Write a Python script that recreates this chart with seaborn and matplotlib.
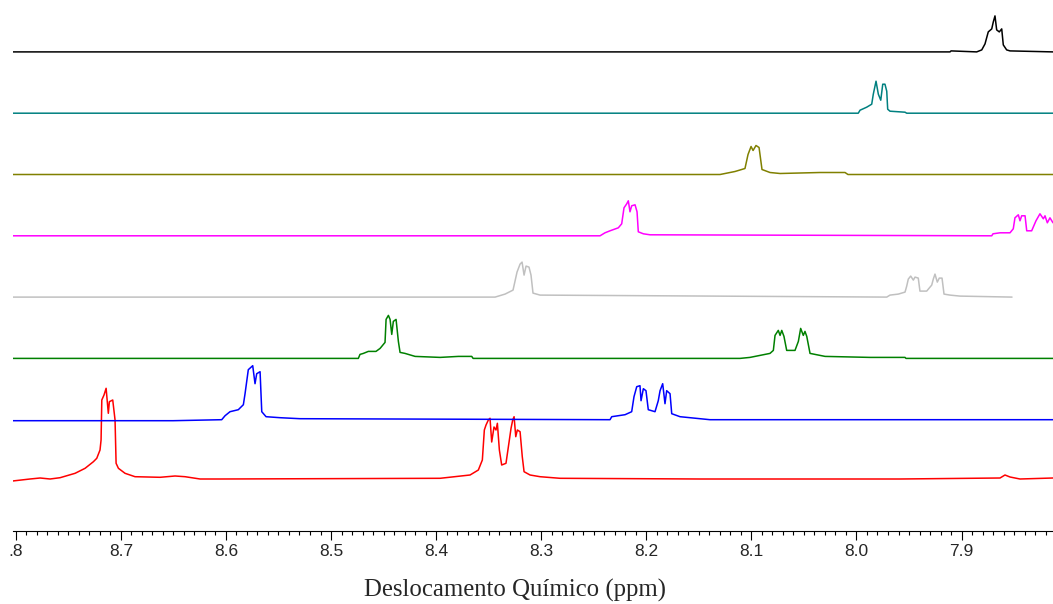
import matplotlib
matplotlib.use('Agg')
from matplotlib import pyplot as plt
from matplotlib.ticker import FixedLocator, FixedFormatter, MultipleLocator
import seaborn as sns

# spectra, bottom to top; ppm / intensity pairs
red_ppm = [8.803, 8.7864, 8.7768, 8.7673, 8.7578, 8.7435, 8.7340, 8.7261, 8.7229, 8.7198,
           8.7188, 8.7181, 8.7160, 8.7140, 8.7119, 8.7109, 8.7077, 8.7055, 8.7045, 8.7023,
           8.6960, 8.6865, 8.6627, 8.6484, 8.6389, 8.6246, 8.6056, 8.3962, 8.3677, 8.3598,
           8.3560, 8.3541, 8.3525, 8.3503, 8.3487, 8.3471, 8.3449, 8.3430, 8.3417, 8.3398,
           8.3376, 8.3335, 8.3303, 8.3287, 8.3271, 8.3258, 8.3242, 8.3227, 8.3201, 8.3180,
           8.3163, 8.3106, 8.3011, 8.2821, 8.1489, 7.9586, 7.8634, 7.8587, 7.8539, 7.8444, 7.813]
red_int = [0, 2, 3, 2, 3.3, 7.7, 12.7, 19.3, 22.7, 31,
           41, 81, 86, 92.7, 67.7, 79.3, 81, 61, 17.7, 12.7,
           7.7, 4.3, 3.7, 5, 4.3, 2, 2, 2.7, 6, 11,
           21, 51, 56, 61, 62.7, 39, 54, 51, 57.7, 31,
           16, 17.7, 41, 52.7, 61, 64.3, 44.3, 51, 49.3, 24.3,
           9.3, 6, 4.3, 2.7, 2, 2, 3, 6, 4, 2, 3]

blue_ppm = [8.803, 8.6503, 8.6040, 8.6008, 8.5961, 8.5882, 8.5834, 8.5818, 8.5787, 8.5745,
            8.5723, 8.5707, 8.5675, 8.5659, 8.5618, 8.5485, 8.5295, 8.2345, 8.2329, 8.2202,
            8.2139, 8.2117, 8.2091, 8.2060, 8.2050, 8.2028, 8.2003, 8.1981, 8.1917, 8.1886,
            8.1869, 8.1844, 8.1822, 8.1806, 8.1774, 8.1758, 8.1679, 8.1584, 8.1489, 8.1394, 7.813]
blue_int = [-1, -1, 0, 4, 8, 10, 15, 26, 50, 54,
            36, 46, 48, 8, 3, 2, 1, 0, 3, 5,
            8, 23, 33, 34, 19, 31, 29, 10, 8, 19,
            29, 36, 16, 29, 26, 6, 3, 2, 1, 0, 0]

green_ppm = [8.803, 8.4740, 8.4724, 8.4692, 8.4645, 8.4572, 8.4533, 8.4486, 8.4476, 8.4454,
             8.4438, 8.4422, 8.4407, 8.4381, 8.4359, 8.4343, 8.4296, 8.4200, 8.3962, 8.3788,
             8.3661, 8.3648, 8.1108, 8.1013, 8.0918, 8.0823, 8.0791, 8.0775, 8.0744, 8.0727,
             8.0711, 8.0690, 8.0664, 8.0585, 8.0553, 8.0531, 8.0506, 8.0490, 8.0473, 8.0442,
             8.0299, 7.9871, 7.9538, 7.9529, 7.813]
green_int = [0, 0, 4, 5, 7, 7, 10, 16, 39, 43,
             39, 24, 37, 39, 17, 6, 5, 2, 1, 2,
             2, 0, 0, 1, 3, 5, 8, 23, 28, 23,
             28, 22, 8, 8, 17, 30, 23, 27, 22, 5,
             2, 1, 1, 0, 0]

gray_ppm = [8.803, 8.3439, 8.3344, 8.3268, 8.3230, 8.3201, 8.3182, 8.3163, 8.3144, 8.3116,
            8.3097, 8.3078, 8.3011, 7.9712, 7.9681, 7.9602, 7.9538, 7.9522, 7.9507, 7.9484,
            7.9459, 7.9443, 7.9412, 7.9396, 7.9332, 7.9284, 7.9269, 7.9253, 7.9231, 7.9212,
            7.9186, 7.9167, 7.9110, 7.9015, 7.8520]
gray_int = [0, 0, 3, 7, 25, 33, 35, 22, 31, 30,
            22, 4, 2, 0, 2, 3, 5, 11, 18, 21,
            17, 20, 19, 6, 6, 12, 18, 23, 15, 19,
            19, 3, 2, 1, 0]

magenta_ppm = [8.803, 8.2440, 8.2393, 8.2345, 8.2266, 8.2234, 8.2212, 8.2186, 8.2171, 8.2155,
               8.2139, 8.2107, 8.2088, 8.2076, 8.2028, 8.1964, 7.8713, 7.8701, 7.8634, 7.8539,
               7.8508, 7.8492, 7.8460, 7.8444, 7.8428, 7.8396, 7.8380, 7.8333, 7.8292, 7.8254,
               7.8222, 7.8206, 7.8184, 7.8159, 7.813]
magenta_int = [0, 0, 3, 5, 8, 12, 28, 32, 35, 24,
               30, 31, 24, 4, 2, 1, 0, 2, 3, 3,
               7, 18, 21, 15, 20, 20, 5, 5, 15, 22,
               17, 20, 13, 18, 13]

olive_ppm = [8.803, 8.1298, 8.1156, 8.1061, 8.1032, 8.1003, 8.0984, 8.0956, 8.0927, 8.0899,
             8.0823, 8.0727, 8.0347, 8.0109, 8.0081, 7.813]
olive_int = [0, 0, 3, 6, 20, 28, 24, 29, 27, 5,
             2, 1, 2, 2, 0, 0]

teal_ppm = [8.803, 7.9983, 7.9966, 7.9903, 7.9855, 7.9840, 7.9814, 7.9792, 7.9769, 7.9750,
            7.9729, 7.9712, 7.9703, 7.9681, 7.9538, 7.9522, 7.813]
teal_int = [0, 0, 3, 6, 9, 19, 32, 19, 13, 29,
            29, 22, 4, 2, 1, 0, 0]

black_ppm = [8.803, 7.9110, 7.9100, 7.8856, 7.8808, 7.8777, 7.8746, 7.8713, 7.8698, 7.8682,
             7.8666, 7.8641, 7.8618, 7.8603, 7.8571, 7.8539, 7.813]
black_int = [0, 0, 1, 0, 2, 8, 20, 23, 30, 36,
             22, 20, 23, 7, 2, 1, 0]

major_ticks = [8.8, 8.7, 8.6, 8.5, 8.4, 8.3, 8.2, 8.1, 8.0, 7.9]
tick_labels = ['.8', '8.7', '8.6', '8.5', '8.4', '8.3', '8.2', '8.1', '8.0', '7.9']

traces = [
    (red_ppm, red_int, '#ff0000'),
    (blue_ppm, blue_int, '#0000ff'),
    (green_ppm, green_int, '#008000'),
    (gray_ppm, gray_int, '#c0c0c0'),
    (magenta_ppm, magenta_int, '#ff00ff'),
    (olive_ppm, olive_int, '#808000'),
    (teal_ppm, teal_int, '#008080'),
    (black_ppm, black_int, '#000000'),
]

sns.set_style('white')
plt.rcParams['font.family'] = ['Liberation Sans', 'DejaVu Sans']

fig = plt.figure(figsize=(10.53, 6.04), dpi=100)
ax = fig.add_axes([13 / 1053, 73 / 604, 1 - 13 / 1053, 1 - 73 / 604])

for i, (ppm, inten, color) in enumerate(traces):
    offset = 50 + i * 61.3
    sns.lineplot(x=ppm, y=[v + offset for v in inten], color=color, lw=1.1,
                 estimator=None, sort=False, ax=ax)

ax.set_xlim(8.8026, 7.813)
ax.set_ylim(0, 531)

for side in ['top', 'left', 'right']:
    ax.spines[side].set_visible(False)
ax.spines['bottom'].set_linewidth(0.8)
ax.spines['bottom'].set_color('black')

ax.xaxis.set_major_locator(FixedLocator(major_ticks))
ax.xaxis.set_major_formatter(FixedFormatter(tick_labels))
ax.xaxis.set_minor_locator(MultipleLocator(0.01))
ax.tick_params(axis='x', which='major', direction='out', length=6.5, width=0.8,
               color='black', labelsize=12.5, pad=3, bottom=True)
ax.tick_params(axis='x', which='minor', direction='out', length=3.2, width=0.8,
               color='black', bottom=True)
ax.set_yticks([])
ax.set_ylabel('')
ax.set_xlabel('')

fig.text(515 / 1053, 1 - 590 / 604, 'Deslocamento Químico (ppm)', ha='center', va='center',
         fontsize=17.8, family='Liberation Serif')

fig.savefig('out.png', dpi=100)
plt.close(fig)
